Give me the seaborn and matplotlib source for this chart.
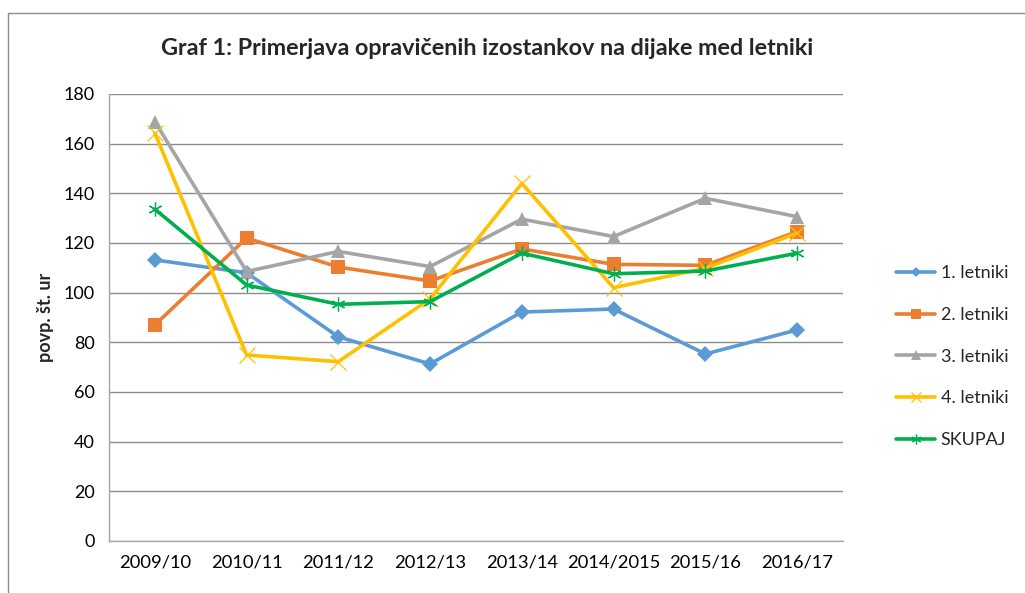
import matplotlib
matplotlib.use("Agg")
import matplotlib.pyplot as plt
import seaborn as sns
import pandas as pd
from matplotlib.patches import Rectangle

categories = ["2009/10", "2010/11", "2011/12", "2012/13", "2013/14", "2014/2015", "2015/16", "2016/17"]
letniki_1 = [113.2, 108.0, 82.2, 71.3, 92.2, 93.4, 75.3, 85.0]
letniki_2 = [87.0, 122.0, 110.3, 104.7, 117.6, 111.4, 111.0, 124.6]
letniki_3 = [168.9, 108.5, 116.6, 110.5, 129.6, 122.6, 138.0, 130.6]
letniki_4 = [164.3, 74.9, 72.2, 97.5, 144.0, 102.0, 109.8, 124.0]
skupaj = [133.6, 103.1, 95.3, 96.4, 115.9, 107.6, 108.7, 115.9]
series_names = ["1. letniki", "2. letniki", "3. letniki", "4. letniki", "SKUPAJ"]
yticks = [0, 20, 40, 60, 80, 100, 120, 140, 160, 180]

title = "Graf 1: Primerjava opravičenih izostankov na dijake med letniki"
ylabel = "povp. št. ur"

colors = ["#5B9BD5", "#ED7D31", "#A5A5A5", "#FFC000", "#00B050"]
markers = ["D", "s", "^", "x", (6, 2, 0)]
msizes = [8, 10, 10, 11, 10]

sns.set_theme(style="white")
plt.rcParams["font.family"] = ["Lato", "DejaVu Sans"]

fig = plt.figure(figsize=(10.25, 5.93), dpi=100)
ax = fig.add_axes([0.1063, 0.0877, 0.7161, 0.7538])

values = [letniki_1, letniki_2, letniki_3, letniki_4, skupaj]
rows = []
for name, vals in zip(series_names, values):
    for c, v in zip(categories, vals):
        rows.append({"leto": c, "vrednost": v, "serija": name})
df = pd.DataFrame(rows)

for i, name in enumerate(series_names):
    sub = df[df["serija"] == name]
    sns.lineplot(data=sub, x="leto", y="vrednost", ax=ax, color=colors[i],
                 linewidth=2.6, marker=markers[i], markersize=msizes[i],
                 markeredgewidth=0.9 if i in (3, 4) else 0,
                 markeredgecolor=colors[i], sort=False, label=name, legend=False)

ax.set_xlim(-0.5, len(categories) - 0.5)
ax.set_ylim(0, 180)
ax.set_yticks(yticks)
ax.set_yticklabels([str(t) for t in yticks], fontsize=13, color="#000000")
ax.set_xticks(range(len(categories)))
ax.set_xticklabels(categories, fontsize=13.2, color="#000000")
ax.tick_params(axis="both", length=0, pad=10)
ax.grid(axis="y", color="#8C8C8C", linewidth=1.0)
ax.grid(axis="x", visible=False)
ax.set_axisbelow(True)
for s in ["top", "right"]:
    ax.spines[s].set_visible(False)
for s in ["left", "bottom"]:
    ax.spines[s].set_color("#A6A6A6")
    ax.spines[s].set_linewidth(1.0)
ax.set_xlabel("")
ax.set_ylabel(ylabel, fontsize=13, fontweight="bold", labelpad=7)

fig.text(0.475, 0.919, title, ha="center", va="center", fontsize=16.8, fontweight="bold")

h, l = ax.get_legend_handles_labels()
fig.legend(h, l, loc="upper left", bbox_to_anchor=(0.858, 0.58), frameon=False,
           fontsize=13, labelspacing=1.42, handlelength=2.2, handletextpad=0.3,
           markerscale=0.7)

fig.patches.append(Rectangle((8 / 1025, -0.01), 1.2, 1 - 13 / 593 + 0.01,
                             transform=fig.transFigure, fill=False,
                             edgecolor="#8C8C8C", linewidth=1.0))

fig.savefig("out.png", dpi=100)
